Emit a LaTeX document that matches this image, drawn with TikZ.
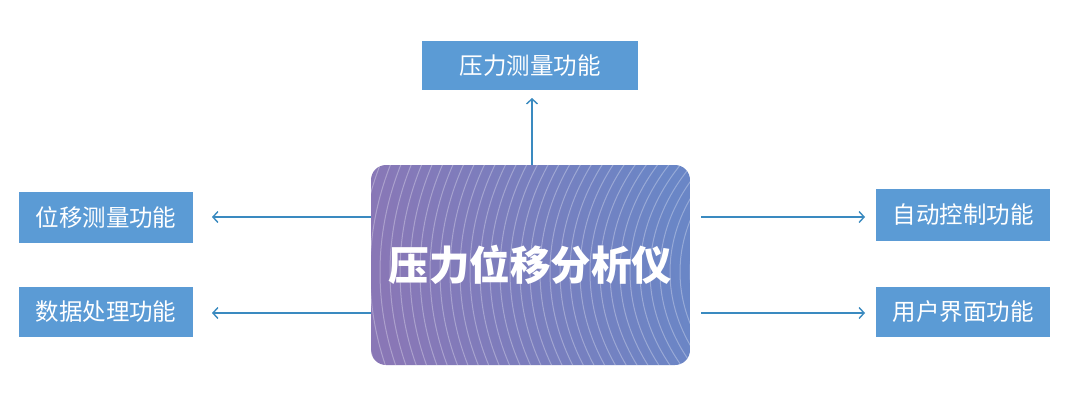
\documentclass[tikz,border=0pt]{standalone}
\usepackage{fontspec}
\newfontfamily\cjk{Noto Sans CJK SC}
\usetikzlibrary{arrows.meta}
\definecolor{boxblue}{HTML}{5B9BD5}
\definecolor{arrblue}{HTML}{3A8AC0}
\definecolor{cleft}{HTML}{8977B6}
\definecolor{cright}{HTML}{6A86C6}
\tikzset{
  funcbox/.style={rectangle, fill=boxblue, text=white, minimum width=174pt, minimum height=50pt, inner sep=0pt, font=\cjk\fontsize{23.5}{28}\selectfont},
  arr/.style={draw=arrblue, line width=1.4pt, -{Straight Barb[length=5pt,width=11pt,line width=1.4pt]}},
}
\begin{document}
\begin{tikzpicture}[x=1pt,y=-1pt]
\useasboundingbox (0,0) rectangle (1080,405);
\fill[white] (0,0) rectangle (1080,405);
% center box
\begin{scope}
  \path[clip, rounded corners=15pt] (371,165) rectangle (690,365);
  \shade[left color=cleft, right color=cright, shading angle=100] (371,165) rectangle (690,365);
  \foreach \r in {250,260,...,620} {
    \draw[white, opacity=0.3, line width=1pt] (950,272) ellipse[x radius=\r, y radius=0.7*\r];
  }
\end{scope}
\node[inner sep=0pt, minimum width=319pt, minimum height=200pt, text=white, font=\cjk\bfseries\fontsize{40.5}{46}\selectfont] (c) at (530.5,265) {压力位移分析仪};
% function boxes
\node[funcbox, minimum width=216pt, minimum height=49pt] (top) at (530,65.5) {压力测量功能};
\node[funcbox, minimum height=51pt] (l1) at (106,217.5) {位移测量功能};
\node[funcbox] (l2) at (106,312) {数据处理功能};
\node[funcbox, minimum height=52pt] (r1) at (963,215) {自动控制功能};
\node[funcbox] (r2) at (963,312) {用户界面功能};
% arrow end points
\coordinate (ttop) at (532,98);
\coordinate (tl1) at (212,217);
\coordinate (tl2) at (212,313);
\coordinate (sr1) at (701,217);
\coordinate (sr2) at (701,313);
\coordinate (tr1) at (865,217);
\coordinate (tr2) at (865,313);
\draw[arr] (c.north -| ttop) -- (ttop);
\draw[arr] (c.west |- tl1) -- (tl1);
\draw[arr] (c.west |- tl2) -- (tl2);
\draw[arr] (sr1) -- (tr1);
\draw[arr] (sr2) -- (tr2);
\end{tikzpicture}
\end{document}
